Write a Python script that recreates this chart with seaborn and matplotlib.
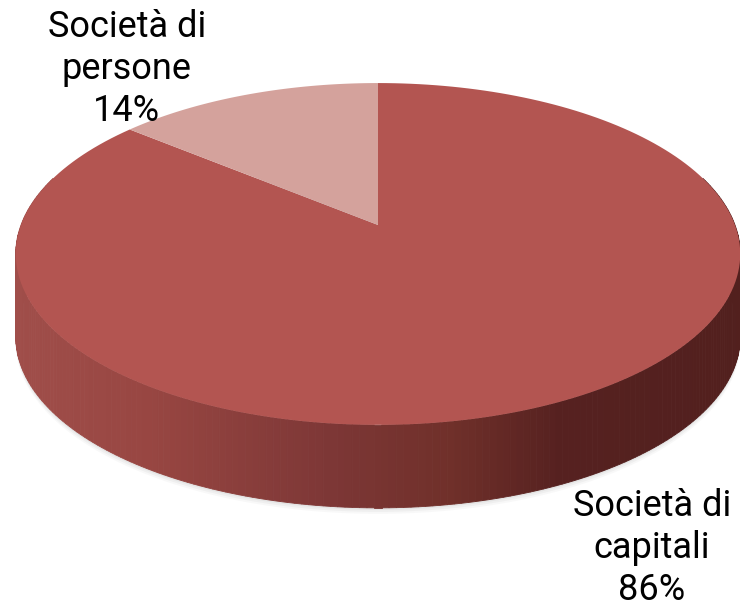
import numpy as np
import matplotlib
matplotlib.use("Agg")
import matplotlib.pyplot as plt
import seaborn as sns

sns.set_theme(style="white")
plt.rcParams['font.family'] = ['Roboto', 'DejaVu Sans']

# data
categories = ["Società di\ncapitali", "Società di\npersone"]
shares = [86, 14]
top_colors = ["#b35551", "#d4a29c"]

# geometry of the 3d disc (pixels), simple perspective
cx, cy = 378, 225
A, B, D = 357, 166, 5.9
depth = 83

fig = plt.figure(figsize=(7.4, 6.09), dpi=100)
ax = fig.add_axes([0, 0, 1, 1])
ax.set_xlim(0, 740)
ax.set_ylim(609, 0)
ax.axis('off')

def pt(theta, dz=0):
    u, v = np.cos(theta), np.sin(theta)
    s = D / (D + v)
    return cx + A * u * s, cy - B * v * s + dz

# soft shadow under the disc
for off, al in [(6, 0.05), (4, 0.07), (2, 0.09)]:
    t = np.linspace(0, 2 * np.pi, 300)
    xs, ys = pt(t, depth + off)
    ax.fill(xs, ys, color='gray', alpha=al, lw=0)

# side wall, shaded from left to right
side_anchor_x = [15, 150, 330, 450, 560, 740]
side_anchor_c = [(160, 78, 74), (152, 70, 66), (125, 55, 54), (112, 48, 42), (86, 33, 32), (82, 32, 30)]
th = np.linspace(np.pi - 0.3, 2 * np.pi + 0.3, 220)
for t0, t1 in zip(th[:-1], th[1:]):
    x0, y0 = pt(t0)
    x1, y1 = pt(t1)
    xm = (x0 + x1) / 2
    c = [np.interp(xm, side_anchor_x, [col[k] for col in side_anchor_c]) / 255 for k in range(3)]
    ax.fill([x0, x1, x1, x0], [y0, y1, y1 + depth, y0 + depth], color=c, lw=0.6, ec=c)

# top face wedges, clockwise from 12 o'clock
start = np.pi / 2
total = sum(shares)
for val, col in zip(shares, top_colors):
    span = 2 * np.pi * val / total
    t = np.linspace(start, start - span, 200)
    xs, ys = pt(t)
    ax.fill(np.r_[cx, xs, cx], np.r_[cy, ys, cy], color=col, lw=0)
    start -= span

# labels
ax.text(127, 69, categories[1] + "\n%d%%" % shares[1], ha='center', va='center',
        fontsize=26, linespacing=1.2, color='black')
ax.text(652, 548, categories[0] + "\n%d%%" % shares[0], ha='center', va='center',
        fontsize=26, linespacing=1.2, color='black')

fig.savefig("out.png", dpi=100, facecolor='white')
